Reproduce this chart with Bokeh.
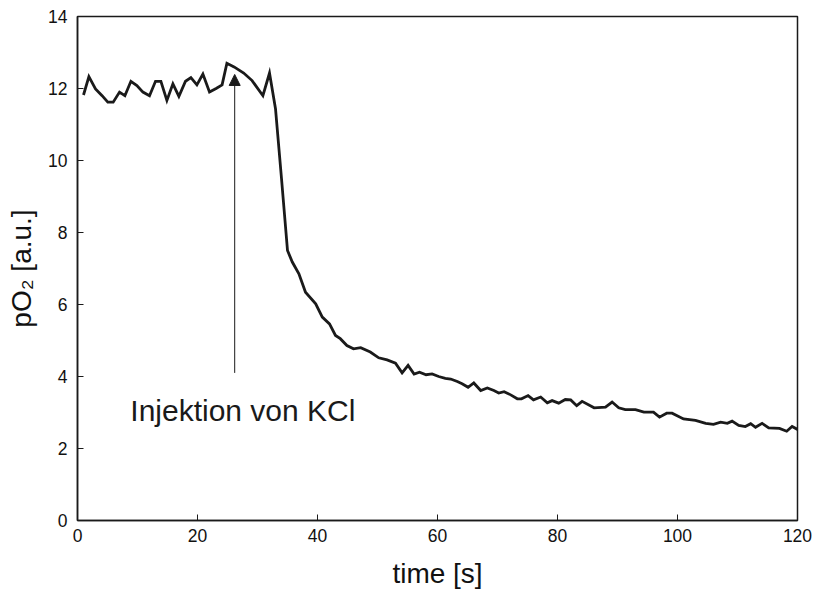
from bokeh.plotting import figure
from bokeh.models import Arrow, NormalHead, Range1d, FixedTicker, Label
from bokeh.embed import file_html
from bokeh.resources import INLINE

time_s = [1.0, 1.9, 3.0, 4.1, 5.05, 5.95, 7.0, 7.9, 8.9, 9.9, 10.9, 12.0, 13.0, 13.9, 14.9,
          15.9, 16.9, 18.0, 18.9, 19.9, 20.9, 22.0, 23.1, 24.1, 24.9, 26.1, 27.7, 29.1, 30.9,
          32.0, 33.0, 34.0, 35.0, 35.8, 36.9, 38.0, 39.7, 40.8, 42.0, 43.0, 43.8, 44.9, 46.0,
          47.2, 48.8, 50.2, 51.6, 53.0, 54.1, 55.1, 56.1, 57.0, 58.1, 59.1, 60.2, 61.3, 62.2,
          63.3, 64.1, 65.1, 66.05, 67.2, 68.3, 69.4, 70.2, 71.1, 72.2, 73.3, 74.0, 75.1, 76.0,
          77.2, 78.3, 79.1, 80.2, 81.3, 82.2, 83.2, 84.1, 86.1, 88.0, 89.1, 90.2, 91.3, 93.0,
          94.4, 96.0, 97.0, 98.2, 99.1, 101.0, 103.0, 104.7, 106.0, 107.2, 108.3, 109.1, 110.2,
          111.3, 112.2, 113.0, 114.1, 115.2, 117.0, 118.2, 119.1, 120.0]
po2 = [11.82, 12.33, 11.99, 11.8, 11.62, 11.62, 11.9, 11.8, 12.2, 12.08, 11.9, 11.8, 12.2,
       12.2, 11.67, 12.13, 11.78, 12.2, 12.3, 12.1, 12.4, 11.9, 12.0, 12.1, 12.7, 12.6, 12.43,
       12.22, 11.8, 12.43, 11.44, 9.5, 7.5, 7.18, 6.85, 6.34, 6.02, 5.65, 5.46, 5.14, 5.05,
       4.86, 4.77, 4.8, 4.68, 4.52, 4.46, 4.37, 4.1, 4.31, 4.07, 4.12, 4.05, 4.07, 4.0, 3.95,
       3.93, 3.86, 3.8, 3.7, 3.82, 3.61, 3.68, 3.61, 3.54, 3.58, 3.49, 3.38, 3.38, 3.47, 3.35,
       3.43, 3.27, 3.33, 3.26, 3.36, 3.35, 3.19, 3.31, 3.13, 3.15, 3.29, 3.13, 3.08, 3.08,
       3.01, 3.01, 2.87, 2.98, 2.98, 2.82, 2.78, 2.7, 2.67, 2.73, 2.7, 2.76, 2.64, 2.61, 2.69,
       2.59, 2.7, 2.57, 2.56, 2.48, 2.61, 2.53]

x_ticks = [0, 20, 40, 60, 80, 100, 120]
y_ticks = [0, 2, 4, 6, 8, 10, 12, 14]

arrow_time = 26.2
arrow_from = 4.1
arrow_to = 12.39
label_text = "Injektion von KCl"
label_time = 8.8
label_value = 3.06

FONT = "Liberation Sans"

p = figure(width=815, height=593, output_backend="svg", toolbar_location=None,
           x_range=Range1d(0, 120), y_range=Range1d(0, 14),
           min_border_left=77, min_border_right=18, min_border_top=16, min_border_bottom=73)

p.line(time_s, po2, line_color="#1a1a1a", line_width=2.8, line_join="miter")

p.add_layout(Arrow(end=NormalHead(size=11, fill_color="#1a1a1a", line_color="#1a1a1a"),
                   x_start=arrow_time, y_start=arrow_from, x_end=arrow_time, y_end=arrow_to,
                   line_color="#1a1a1a", line_width=1))
p.add_layout(Label(x=label_time, y=label_value, text=label_text, text_font=FONT,
                   text_font_size="30px", text_color="#1a1a1a", text_baseline="alphabetic"))

p.grid.visible = False
p.outline_line_color = "#1a1a1a"
p.outline_line_width = 1.5
p.background_fill_color = "white"
p.border_fill_color = "white"

for ax in (p.xaxis[0], p.yaxis[0]):
    ax.axis_line_color = "#1a1a1a"
    ax.axis_line_width = 1.5
    ax.major_tick_in = 6
    ax.major_tick_out = 0
    ax.major_tick_line_color = "#1a1a1a"
    ax.minor_tick_line_color = None
    ax.major_label_text_font = FONT
    ax.major_label_text_font_size = "17.5px"
    ax.major_label_text_color = "#111111"
    ax.axis_label_text_font = FONT
    ax.axis_label_text_font_size = "28px"
    ax.axis_label_text_font_style = "normal"
    ax.axis_label_text_color = "#111111"

p.xaxis.ticker = FixedTicker(ticks=x_ticks)
p.yaxis.ticker = FixedTicker(ticks=y_ticks)
p.xaxis.axis_label = "time [s]"
p.yaxis.axis_label = "pO\u2082 [a.u.]"
p.xaxis.major_label_standoff = 8
p.yaxis.major_label_standoff = 10
p.xaxis.axis_label_standoff = 13
p.yaxis.axis_label_standoff = 8

open("out.html", "w").write(file_html(p, INLINE))
